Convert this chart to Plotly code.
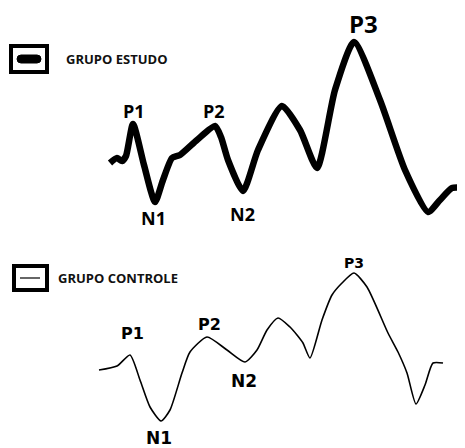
import plotly.graph_objects as go

W, H = 465, 448
PAGE_OFFSET = 8  # browser body margin

# Grupo Estudo waveform (time index, amplitude)
estudo_t = [110, 117, 122, 126, 133, 144, 155, 163, 172, 180, 197, 215, 221, 228, 243, 258, 282, 300, 317, 335, 354, 380, 405, 428, 440, 452, 465]
estudo_a = [163, 158, 161, 156, 124, 165, 202, 180, 158, 155, 140, 126, 137, 160, 191, 150, 106, 130, 168, 90, 42, 100, 170, 212, 200, 188, 188]

# Grupo Controle waveform
controle_t = [99, 117, 130, 140, 150, 161, 170, 182, 190, 207, 227, 245, 257, 267, 278, 290, 297, 303, 310, 322, 332, 342, 354, 367, 388, 398, 407, 416, 425, 433, 443]
controle_a = [370, 366, 355, 380, 407, 421, 410, 373, 352, 337, 350, 362, 350, 330, 318, 327, 335, 343, 358, 320, 295, 283, 273, 287, 333, 352, 373, 404, 385, 363, 363]

# component labels
estudo_labels = ["P1", "N1", "P2", "N2", "P3"]
estudo_lx = [134, 153, 214, 242, 363]
estudo_ly = [111, 218, 111, 214, 23]
estudo_size = [18, 18, 18, 18, 24]

controle_labels = ["P1", "N1", "P2", "N2", "P3"]
controle_lx = [132, 159, 209, 244, 354]
controle_ly = [333, 438, 324, 381, 263]
controle_size = [16, 17, 16, 17, 14]

series_names = ["GRUPO ESTUDO", "GRUPO CONTROLE"]

fig = go.Figure()
fig.add_trace(go.Scatter(x=estudo_t, y=estudo_a, mode="lines",
                         line=dict(color="black", width=6.5, shape="spline", smoothing=0.6),
                         hoverinfo="skip", showlegend=False))
fig.add_trace(go.Scatter(x=controle_t, y=controle_a, mode="lines",
                         line=dict(color="black", width=1.6, shape="spline", smoothing=0.6),
                         hoverinfo="skip", showlegend=False))

for lab, x, y, s in zip(estudo_labels, estudo_lx, estudo_ly, estudo_size):
    fig.add_annotation(x=x, y=y, text=f"<b>{lab}</b>", showarrow=False,
                       font=dict(family="Open Sans", size=s, color="black"))
for lab, x, y, s in zip(controle_labels, controle_lx, controle_ly, controle_size):
    fig.add_annotation(x=x, y=y, text=f"<b>{lab}</b>", showarrow=False,
                       font=dict(family="DejaVu Sans", size=s, color="black"))

# legend boxes
fig.add_shape(type="rect", x0=11, x1=47, y0=46, y1=72, line=dict(color="black", width=4), fillcolor="white")
fig.add_shape(type="path",
              path="M 21 55 L 37 55 Q 41 55 41 59 Q 41 63 37 63 L 21 63 Q 17 63 17 59 Q 17 55 21 55 Z",
              fillcolor="black", line=dict(color="black", width=1))
fig.add_annotation(x=64, y=59, xanchor="left", text=f"<b>{series_names[0]}</b>", showarrow=False,
                   font=dict(family="Open Sans", size=13, color="#111"))

fig.add_shape(type="rect", x0=14, x1=47, y0=266, y1=290, line=dict(color="black", width=4), fillcolor="white")
fig.add_shape(type="line", x0=20, x1=40, y0=278, y1=278, line=dict(color="black", width=1.2))
fig.add_annotation(x=56, y=278, xanchor="left", text=f"<b>{series_names[1]}</b>", showarrow=False,
                   font=dict(family="Open Sans", size=13, color="#111"))

fig.update_xaxes(range=[PAGE_OFFSET, W], visible=False, fixedrange=True)
fig.update_yaxes(range=[H, PAGE_OFFSET], visible=False, fixedrange=True)
fig.update_layout(width=W - PAGE_OFFSET, height=H - PAGE_OFFSET, margin=dict(l=0, r=0, t=0, b=0),
                  paper_bgcolor="white", plot_bgcolor="white", showlegend=False)
fig.write_html("out.html")
